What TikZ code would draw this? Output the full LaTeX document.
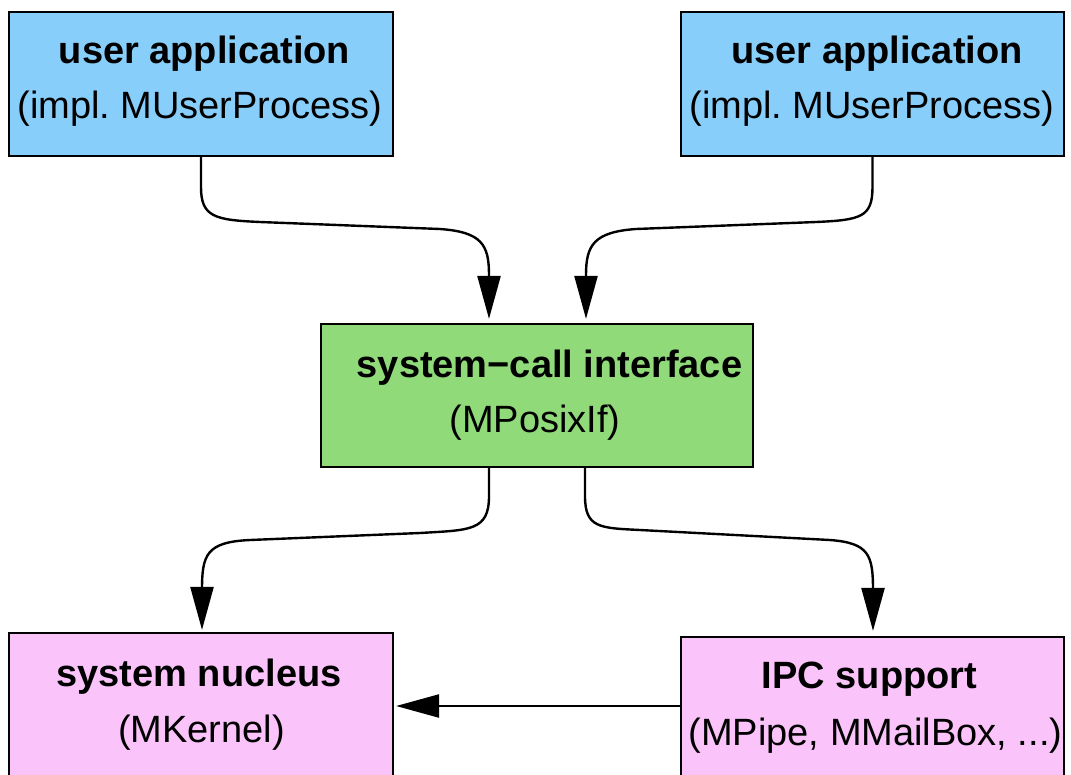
\documentclass[tikz,border=0pt]{standalone}
\usepackage{fontspec}
\setmainfont{Liberation Sans}
\frenchspacing
\usetikzlibrary{arrows.meta,calc}
\definecolor{appblue}{RGB}{135,206,250}
\definecolor{sysgreen}{RGB}{144,218,122}
\definecolor{kernpink}{RGB}{250,195,250}
\tikzset{
  box/.style={draw=black, line width=2.2pt, rectangle, inner sep=0pt, minimum height=144pt},
  ttl/.style={font=\fontsize{38}{44}\selectfont\bfseries, anchor=base, inner sep=0pt},
  sub/.style={font=\fontsize{38}{44}\selectfont, anchor=base, inner sep=0pt},
  arr/.style={line width=2.4pt, -{Triangle[length=43pt,width=23pt]}}
}
\begin{document}
\begin{tikzpicture}[x=1pt,y=-1pt]
\useasboundingbox (0,0) rectangle (1071,774);
% boxes
\node[box, fill=appblue, minimum width=384pt] (ua1) at (201,84) {};
\node[box, fill=appblue, minimum width=383pt] (ua2) at (872.5,84) {};
\node[box, fill=sysgreen, minimum width=432pt, minimum height=143pt] (sci) at (537,395.5) {};
\node[box, fill=kernpink, minimum width=384pt] (nuc) at (201,705) {};
\node[box, fill=kernpink, minimum width=383pt] (ipc) at (872.5,709) {};
% texts
\node[ttl] (ua1a) at (204.5,63) {user application};
\node[sub] (ua1b) at (200,118) {(impl. MUserProcess)};
\node[ttl] (ua2a) at (877,63) {user application};
\node[sub] (ua2b) at (872,118) {(impl. MUserProcess)};
\node[ttl] (scia) at (549.5,377) {system−call interface};
\node[sub] (scib) at (535,432) {(MPosixIf)};
\node[ttl] (nuca) at (199,686) {system nucleus};
\node[sub] (nucb) at (201.5,742) {(MKernel)};
\node[ttl] (ipca) at (869.5,688) {IPC support};
\node[sub] (ipcb) at (875.5,745) {(MPipe, MMailBox, ...)};
% connectors
\draw[arr] (ua1.south) -- ++(0,30) .. controls ++(0,30) and (215,220) .. (260,222)
   -- (440,229) .. controls (482,232) and (489,245) .. (489,275) -- ($(sci.north)+(-48,-4)$);
\draw[arr] (ua2.south) -- ++(0,30) .. controls ++(0,30) and (861,220) .. (816,222)
   -- (636,229) .. controls (594,232) and (586,245) .. (586,275) -- ($(sci.north)+(49,-4)$);
\draw[arr] ($(sci.south)+(-48,0)$) -- ++(0,28) .. controls ++(0,35) and (470,530) .. (420,533)
   -- (250,540) .. controls (206,542) and (202,555) .. (202,590) -- ($(nuc.north)+(1,-2)$);
\draw[arr] ($(sci.south)+(48,0)$) -- ++(0,28) .. controls ++(0,32) and (600,528) .. (640,530)
   -- (830,540) .. controls (869,543) and (873,555) .. (873,590) -- ($(ipc.north)+(0.5,-5)$);
\draw[arr] ($(ipc.west)+(0,-3)$) -- ($(nuc.east |- ipc.west)+(2,-3)$);
\end{tikzpicture}
\end{document}
